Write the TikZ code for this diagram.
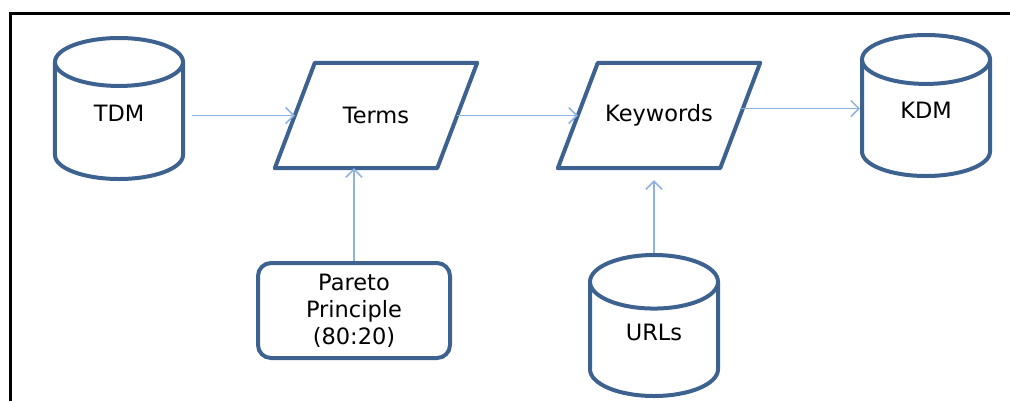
\documentclass[tikz,border=0pt]{standalone}
\usepackage{fontspec}
\setmainfont{DejaVu Sans}
\usetikzlibrary{shapes.geometric,arrows.meta}
\definecolor{boxline}{RGB}{62,98,143}
\definecolor{flowline}{RGB}{141,179,226}

\begin{document}
\begin{tikzpicture}[x=1bp,y=-1bp,
  font=\fontsize{22.5bp}{27bp}\selectfont,
  store/.style={cylinder,shape border rotate=90,aspect=0.95,draw=boxline,line width=4bp,fill=white,minimum width=128bp,minimum height=141bp,inner sep=0pt,text depth=16bp,anchor=south},
  data/.style={rectangle,minimum width=162bp,minimum height=105bp,inner sep=0pt},
  slab/.style={draw=boxline,line width=4bp,line join=round},
  rule/.style={rectangle,rounded corners=13bp,draw=boxline,line width=4bp,minimum width=192bp,minimum height=95bp,align=center,inner sep=0pt},
  flow/.style={draw=flowline,line width=1.5bp,-{Straight Barb[length=8bp,width=16bp]}}]
\useasboundingbox (0,0) rectangle (1010,401);
% frame
\draw[line width=3bp] (10,401) -- (10,13.5) -- (1010,13.5);

\node[store] (tdm) at (119,181) {TDM};
\node[data] (terms) at (376,115.5) {Terms};
\node[data] (keywords) at (659,115.5) {Keywords};
\node[store] (kdm) at (926,178) {KDM};
\node[rule] (pareto) at (354,310.5) {Pareto\\Principle\\(80:20)};
\node[store] (urls) at (654,398) {URLs};

% parallelograms round the data nodes
\foreach \n in {terms,keywords}
  \draw[slab] ([xshift=20bp]\n.north west) -- ([xshift=20bp]\n.north east)
    -- ([xshift=-20bp]\n.south east) -- ([xshift=-20bp]\n.south west) -- cycle;

\draw[flow,shorten <=7bp] (tdm.east |- terms) -- (terms);
\draw[flow] (terms) -- (keywords);
\draw[flow] ([yshift=-3bp]keywords.east |- kdm.shape center) -- ([yshift=-3bp]kdm.shape center -| kdm.west);
\draw[flow] (pareto.north) -- (pareto.north |- terms.south);
\draw[flow,shorten >=12bp] (urls.north) -- (urls.north |- keywords.south);

\end{tikzpicture}
\end{document}
